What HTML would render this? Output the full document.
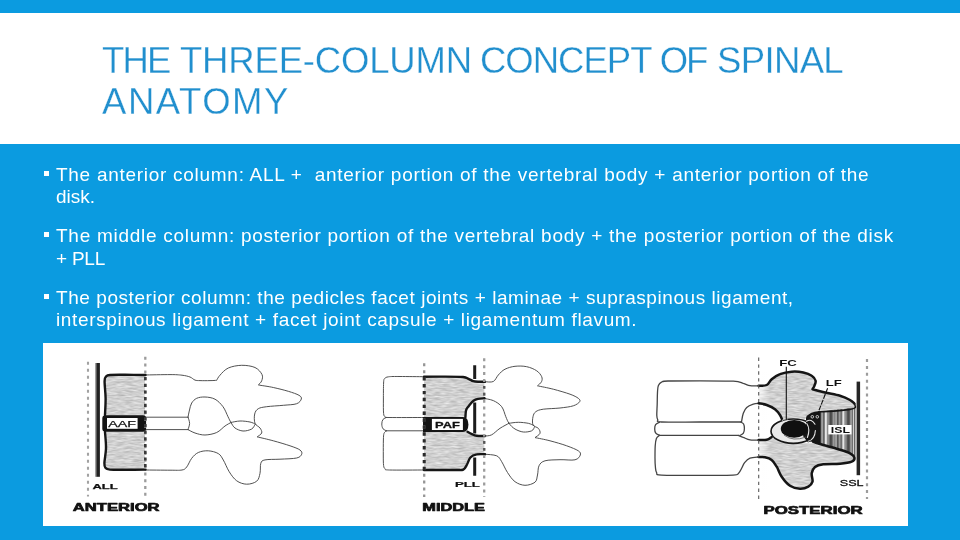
<!DOCTYPE html>
<html lang="en">
<head>
<meta charset="utf-8">
<title>The Three-Column Concept of Spinal Anatomy</title>
<style>
html,body{margin:0;padding:0;}
body{width:960px;height:540px;overflow:hidden;background:#0B9BE0;position:relative;font-family:"Liberation Sans",sans-serif;}
#band{position:absolute;left:0;top:12.7px;width:960px;height:131.2px;background:#fff;}
.t{will-change:transform;position:absolute;left:103px;white-space:nowrap;color:#218FCE;-webkit-text-stroke:0.3px #fff;font-size:36.5px;line-height:41px;height:41px;transform-origin:0 50%;}
.b{will-change:transform;position:absolute;left:56px;white-space:nowrap;color:#fff;font-size:19px;line-height:22px;height:22px;transform-origin:0 50%;}
.bu{margin-top:-0.4px;position:absolute;left:43.8px;width:5px;height:5px;background:#fff;}
#fig{position:absolute;left:42.6px;top:342.6px;width:865.5px;height:183.2px;background:#fff;}
</style>
</head>
<body>
<div id="band"></div>
<div class="t" id="t1" style="top:40px;width:760px"><span style="position:absolute;left:-1.0px;top:0;letter-spacing:-1.85px">THE</span> <span style="position:absolute;left:77.0px;top:0;letter-spacing:-0.18px">THREE-COLUMN</span> <span style="position:absolute;left:377.0px;top:0;letter-spacing:-1.00px">CONCEPT</span> <span style="position:absolute;left:556.8px;top:0;letter-spacing:-2.30px">OF</span> <span style="position:absolute;left:614.0px;top:0;letter-spacing:-0.64px">SPINAL</span></div>
<div class="t" id="t2" style="top:81px;left:102.4px;letter-spacing:1.55px">ANATOMY</div>

<div class="bu" style="top:171px"></div>
<div class="b" id="b1" style="top:164px;letter-spacing:0.72px">The anterior column: ALL +&nbsp; anterior portion of the vertebral body + anterior portion of the</div>
<div class="b" id="b2" style="top:186px;letter-spacing:-0.02px">disk.</div>
<div class="bu" style="top:232px"></div>
<div class="b" id="b3" style="top:225px;letter-spacing:0.73px">The middle column: posterior portion of the vertebral body + the posterior portion of the disk</div>
<div class="b" id="b4" style="top:248px;letter-spacing:-0.24px">+ PLL</div>
<div class="bu" style="top:294px"></div>
<div class="b" id="b5" style="top:287px;letter-spacing:0.56px">The posterior column: the pedicles facet joints + laminae + supraspinous ligament,</div>
<div class="b" id="b6" style="top:309px;letter-spacing:0.65px">interspinous ligament + facet joint capsule + ligamentum flavum.</div>

<div id="fig"></div>
<!--FIG-->
<svg id="figsvg" width="960" height="540" viewBox="0 0 960 540" style="position:absolute;left:0;top:0;will-change:transform;filter:blur(0.35px)" font-family="'Liberation Sans',sans-serif">
<defs>
<filter id="nz" color-interpolation-filters="sRGB" x="0" y="0" width="100%" height="100%"><feTurbulence type="fractalNoise" baseFrequency="0.12 0.6" numOctaves="2" seed="7" result="t"/><feColorMatrix in="t" type="matrix" values="0.3 0 0 0 0.665  0.3 0 0 0 0.665  0.3 0 0 0 0.665  0 0 0 0 1" result="g"/><feComposite in="g" in2="SourceGraphic" operator="in"/></filter>
<filter id="soft" x="-2%" y="-2%" width="104%" height="104%"><feGaussianBlur stdDeviation="0.35"/></filter>
<linearGradient id="fade" x1="0" x2="1" y1="0" y2="0"><stop offset="0" stop-color="#fff" stop-opacity="0.75"/><stop offset="1" stop-color="#fff" stop-opacity="0"/></linearGradient>
<pattern id="stripes" x="820" width="17.5" height="10" patternUnits="userSpaceOnUse"><rect width="17.5" height="10" fill="#4a4a4a"/><rect x="1.2" width="2" height="10" fill="#a4a4a4"/><rect x="4.6" width="2.2" height="10" fill="#e6e6e6"/><rect x="6.8" width="2.6" height="10" fill="#8e8e8e"/><rect x="12.4" width="2.6" height="10" fill="#9a9a9a"/><rect x="15.6" width="1.1" height="10" fill="#dcdcdc"/></pattern>
</defs>
<rect x="105" y="376" width="40" height="40" fill="#c8c8c8" filter="url(#nz)"/>
<rect x="105" y="431" width="40" height="38.5" fill="#c8c8c8" filter="url(#nz)"/>
<path d="M145.0 375.0C149.2 374.9 163.8 374.6 170.0 374.6C176.2 374.6 178.7 374.8 182.0 375.2C185.3 375.6 187.8 376.2 190.0 377.0C192.2 377.8 193.3 379.5 195.0 380.1C196.7 380.7 197.5 380.5 200.0 380.6C202.5 380.7 207.2 380.7 210.0 380.6C212.8 380.6 215.6 380.4 216.7 380.3C217.2 379.4 218.1 377.2 220.0 375.2C221.9 373.1 224.7 369.6 228.3 368.0C231.9 366.4 237.2 365.4 241.7 365.3C246.1 365.2 251.6 366.0 255.0 367.5C258.4 369.0 260.9 372.3 262.0 374.5C263.1 376.7 262.3 379.1 261.7 380.8C261.1 382.6 258.9 384.3 258.3 385.0C260.8 385.4 268.3 386.4 273.3 387.5C278.3 388.6 284.0 390.0 288.3 391.3C292.6 392.6 296.8 394.0 299.0 395.3C301.2 396.6 301.7 397.6 301.3 399.0C300.9 400.4 299.7 402.6 296.7 403.7C293.7 404.8 288.3 404.8 283.3 405.3C278.3 405.8 270.9 406.1 266.7 406.7C262.5 407.3 260.3 407.5 258.3 408.7C256.3 409.9 255.2 411.6 254.7 414.0C254.1 416.4 254.1 421.0 255.0 423.3C255.9 425.6 258.9 426.4 260.0 428.0C261.1 429.6 262.2 431.5 261.7 433.0C261.2 434.5 257.9 436.2 257.2 436.9C259.9 437.5 267.8 439.3 273.3 440.8C278.8 442.3 285.6 444.3 290.0 445.8C294.4 447.3 298.1 448.6 300.0 450.0C301.9 451.4 302.2 452.9 301.7 454.2C301.1 455.5 300.3 457.2 296.7 458.0C293.1 458.8 285.3 458.9 280.0 459.2C274.7 459.5 268.2 459.2 265.0 459.9C261.8 460.6 261.6 461.1 260.8 463.3C260.0 465.5 260.7 470.3 260.0 473.3C259.3 476.3 258.9 479.4 256.7 481.2C254.5 483.0 250.0 484.3 246.7 484.2C243.4 484.1 239.6 482.9 236.7 480.8C233.8 478.7 231.4 475.2 229.2 471.7C227.0 468.2 225.1 463.0 223.3 460.0C221.5 457.0 220.8 455.1 218.3 453.6C215.8 452.1 211.6 451.0 208.3 450.8C205.0 450.6 201.1 451.2 198.3 452.5C195.5 453.8 193.6 455.9 191.7 458.3C189.8 460.7 188.3 465.1 186.7 467.0C185.1 468.9 184.8 469.5 182.0 470.0C179.2 470.5 176.2 470.2 170.0 470.2C163.8 470.2 149.2 470.0 145.0 470.0" fill="none" stroke="#484848" stroke-width="0.95" stroke-linecap="round" stroke-linejoin="round"/>
<path d="M188.0 417.2C188.2 416.0 188.9 412.4 189.5 410.0C190.1 407.6 190.5 404.9 191.7 403.0C192.9 401.1 194.5 399.3 196.7 398.3C198.9 397.3 201.9 396.9 205.0 397.0C208.1 397.1 212.0 397.6 215.0 399.2C218.0 400.8 220.8 403.8 223.0 406.7C225.2 409.6 226.7 414.1 228.0 416.7C229.3 419.3 229.8 420.6 231.0 422.5C232.2 424.4 233.0 426.6 235.0 428.0C237.0 429.4 240.2 430.8 243.0 431.0C245.8 431.2 249.7 430.1 251.7 429.0C253.7 427.9 254.4 425.2 255.0 424.5" fill="none" stroke="#484848" stroke-width="0.95" stroke-linecap="round" stroke-linejoin="round"/>
<path d="M231.0 422.5C232.5 422.2 236.8 421.1 240.0 421.0C243.2 420.9 247.4 421.5 250.0 422.0C252.6 422.5 254.6 423.8 255.5 424.2" fill="none" stroke="#484848" stroke-width="0.95" stroke-linecap="round" stroke-linejoin="round"/>
<path d="M188.0 429.6C189.2 430.2 192.2 432.1 195.0 433.0C197.8 433.9 201.4 435.1 205.0 435.0C208.6 434.9 213.4 434.0 216.7 432.5C220.0 431.0 222.6 427.7 225.0 426.0C227.4 424.3 230.0 423.1 231.0 422.5" fill="none" stroke="#484848" stroke-width="0.95" stroke-linecap="round" stroke-linejoin="round"/>
<path d="M145 417.2H188M145 429.6H188" fill="none" stroke="#484848" stroke-width="0.95" stroke-linecap="round" stroke-linejoin="round"/>
<path d="M188.0 417.2C188.3 418.2 189.6 421.3 189.6 423.4C189.6 425.5 188.3 428.6 188.0 429.6" fill="none" stroke="#484848" stroke-width="0.95" stroke-linecap="round" stroke-linejoin="round"/>
<path d="M105.0 415.0C105.1 412.2 105.7 403.7 105.6 398.0C105.5 392.3 104.5 384.6 104.6 381.0C104.7 377.4 105.1 377.6 106.0 376.6C106.9 375.6 106.8 375.3 110.0 375.0C113.2 374.7 119.1 374.8 125.0 374.8C130.9 374.8 142.1 375.0 145.5 375.0" fill="none" stroke="#161616" stroke-width="2.4" stroke-linecap="round" stroke-linejoin="round"/>
<path d="M105.0 432.0C105.2 434.7 106.1 442.8 106.0 448.0C105.9 453.2 104.5 459.7 104.4 463.0C104.3 466.3 104.5 466.7 105.4 467.8C106.3 468.9 106.7 469.3 110.0 469.6C113.3 469.9 119.1 469.8 125.0 469.8C130.9 469.8 142.1 469.6 145.5 469.6" fill="none" stroke="#161616" stroke-width="2.4" stroke-linecap="round" stroke-linejoin="round"/>
<rect x="102.3" y="415.2" width="43.8" height="16.6" rx="3.2" fill="#141414"/>
<rect x="107" y="418" width="30.6" height="10.8" fill="#fff"/>
<text x="108.3" y="426.9" font-size="9.2" font-weight="normal" fill="#111" stroke="#111" stroke-width="0.25" stroke-linejoin="round" textLength="27.8" lengthAdjust="spacingAndGlyphs">AAF</text>
<rect x="95.2" y="363" width="1.4" height="113.8" fill="#8a8a8a"/><rect x="96.4" y="363" width="3.5" height="113.8" fill="#222"/>
<line x1="88.0" y1="361.8" x2="88.0" y2="496.5" stroke="#a2a2a2" stroke-width="2.1" stroke-dasharray="3.0 4.0" stroke-dashoffset="0.0"/>
<line x1="145.3" y1="356.8" x2="145.3" y2="496.5" stroke="#9c9c9c" stroke-width="2.3" stroke-dasharray="3.0 3.8" stroke-dashoffset="0.0"/>
<line x1="145.3" y1="376.0" x2="145.3" y2="470.0" stroke="#3a3a3a" stroke-width="2.6" stroke-dasharray="3.2 3.5" stroke-dashoffset="5.7"/>
<text x="92.4" y="488.6" font-size="7.4" font-weight="bold" fill="#111" stroke="#111" stroke-width="0.25" stroke-linejoin="round" textLength="25.2" lengthAdjust="spacingAndGlyphs">ALL</text>
<text x="72.8" y="511.0" font-size="11.2" font-weight="bold" fill="#111" stroke="#111" stroke-width="0.70" stroke-linejoin="round" textLength="86.8" lengthAdjust="spacingAndGlyphs">ANTERIOR</text>
<path d="M424 377H463L473.3 381.3L484.3 381.7V398.3L473.3 400.8L468.3 406.7L465 417.5H424Z" fill="#c8c8c8" filter="url(#nz)"/>
<path d="M424 431.5H468L476.7 435.8L484.3 436V454.2H476.7L470 457.5L466.7 465L463.3 470H424Z" fill="#c8c8c8" filter="url(#nz)"/>
<path d="M424.0 376.7C420.0 376.7 405.9 376.5 400.0 376.5C394.1 376.5 391.1 376.4 388.5 376.8C385.9 377.2 385.4 377.6 384.6 378.6C383.8 379.6 383.8 379.4 383.6 383.0C383.4 386.6 383.4 394.9 383.4 400.0C383.4 405.1 383.3 410.7 383.6 413.5C383.9 416.3 384.3 416.1 385.2 416.8C386.1 417.5 382.5 417.4 389.0 417.5C395.5 417.6 418.2 417.5 424.0 417.5" fill="none" stroke="#484848" stroke-width="0.95" stroke-linecap="round" stroke-linejoin="round"/>
<path d="M386.5 417.5C385.9 417.8 383.8 418.3 383.0 419.4C382.2 420.5 381.8 422.4 381.8 424.0C381.8 425.6 382.2 427.7 383.0 428.8C383.8 429.9 385.9 430.5 386.5 430.8" fill="none" stroke="#484848" stroke-width="0.95" stroke-linecap="round" stroke-linejoin="round"/>
<path d="M386.5 430.8H424" fill="none" stroke="#484848" stroke-width="0.95" stroke-linecap="round" stroke-linejoin="round"/>
<path d="M386.5 430.8C386.1 431.2 384.5 431.9 384.0 433.4C383.5 434.9 383.5 436.4 383.4 440.0C383.3 443.6 383.3 450.8 383.3 455.0C383.3 459.2 383.3 463.2 383.6 465.5C383.9 467.8 384.2 468.1 385.2 468.8C386.2 469.6 383.0 469.8 389.5 470.0C396.0 470.2 418.2 470.0 424.0 470.0" fill="none" stroke="#484848" stroke-width="0.95" stroke-linecap="round" stroke-linejoin="round"/>
<path d="M485.0 381.7C486.4 381.7 491.1 382.6 493.3 381.5C495.5 380.4 496.4 377.1 498.3 375.0C500.2 372.9 502.2 370.6 505.0 369.2C507.8 367.8 511.4 366.7 515.0 366.3C518.6 365.9 523.1 365.9 526.7 366.7C530.3 367.4 534.2 369.1 536.7 370.8C539.2 372.5 540.9 374.9 541.7 376.7C542.5 378.5 542.2 380.2 541.5 381.7C540.8 383.2 538.2 385.1 537.5 385.8C540.1 386.4 547.9 387.8 553.3 389.2C558.7 390.6 565.8 392.7 570.0 394.2C574.2 395.7 576.7 397.1 578.3 398.3C579.9 399.6 580.5 400.4 579.7 401.7C578.9 402.9 576.6 404.8 573.3 405.8C570.0 406.9 565.0 407.4 560.0 408.0C555.0 408.6 547.3 408.6 543.3 409.2C539.3 409.8 537.5 410.4 535.8 411.7C534.1 412.9 533.5 414.5 533.0 416.7C532.5 418.9 532.1 423.1 533.0 425.0C533.9 426.9 537.1 426.9 538.3 428.3C539.5 429.7 540.5 431.8 540.0 433.3C539.5 434.9 535.8 436.9 535.0 437.6C537.5 438.1 544.7 439.4 550.0 440.8C555.3 442.2 562.0 444.1 566.7 445.8C571.4 447.5 576.0 449.3 578.3 450.8C580.6 452.3 580.8 453.5 580.3 455.0C579.8 456.5 578.4 459.0 575.0 459.8C571.6 460.6 565.0 459.5 560.0 459.7C555.0 459.9 548.5 459.8 545.0 460.8C541.5 461.8 540.2 463.4 539.0 465.8C537.8 468.2 538.2 472.3 537.5 475.0C536.8 477.7 537.1 480.5 535.0 482.2C532.9 483.9 528.3 485.4 525.0 485.3C521.7 485.2 517.9 483.8 515.0 481.7C512.1 479.6 509.7 475.8 507.5 472.5C505.3 469.2 503.5 464.5 501.7 461.7C499.9 458.9 499.5 457.1 496.7 455.8C493.9 454.6 486.9 454.5 485.0 454.2" fill="none" stroke="#484848" stroke-width="0.95" stroke-linecap="round" stroke-linejoin="round"/>
<path d="M483.3 398.3C485.0 398.7 490.2 399.2 493.3 400.6C496.4 402.0 499.6 404.0 501.7 406.7C503.8 409.4 504.6 413.9 505.8 416.7C507.0 419.5 507.5 421.2 509.0 423.3C510.5 425.4 512.6 427.6 515.0 429.0C517.4 430.4 520.5 431.7 523.3 432.0C526.1 432.3 529.8 431.6 531.7 430.8C533.6 430.0 534.0 427.6 534.5 427.0" fill="none" stroke="#484848" stroke-width="0.95" stroke-linecap="round" stroke-linejoin="round"/>
<path d="M509.0 423.3C510.6 423.1 515.1 422.3 518.3 422.3C521.5 422.3 525.7 422.8 528.3 423.3C530.9 423.9 533.0 425.2 534.0 425.6" fill="none" stroke="#484848" stroke-width="0.95" stroke-linecap="round" stroke-linejoin="round"/>
<path d="M485.0 436.0C486.1 435.8 489.2 436.1 491.7 434.8C494.2 433.5 497.1 430.2 500.0 428.3C502.9 426.4 507.5 424.1 509.0 423.3" fill="none" stroke="#484848" stroke-width="0.95" stroke-linecap="round" stroke-linejoin="round"/>
<path d="M474.7 365.3V379M474.7 402.5V433.5M474.7 457.5V475.8" stroke="#1c1c1c" stroke-width="3" fill="none"/>
<path d="M424.0 376.8C427.5 376.8 438.5 376.6 445.0 376.6C451.5 376.6 459.1 376.6 463.0 377.0C466.9 377.4 466.8 378.1 468.5 378.8C470.2 379.5 471.6 380.7 473.3 381.2C475.1 381.7 477.1 381.7 479.0 381.8C480.9 381.9 484.0 381.7 485.0 381.7" fill="none" stroke="#161616" stroke-width="2.4" stroke-linecap="round" stroke-linejoin="round"/>
<path d="M465.4 417.5C465.5 416.3 465.5 412.4 466.0 410.5C466.5 408.6 467.4 407.8 468.6 406.2C469.9 404.6 471.9 402.0 473.5 400.8C475.1 399.6 476.2 399.3 478.0 398.9C479.8 398.5 483.4 398.4 484.5 398.3" fill="none" stroke="#161616" stroke-width="2.4" stroke-linecap="round" stroke-linejoin="round"/>
<path d="M467.5 431.8C468.2 432.2 470.5 433.5 472.0 434.2C473.5 434.9 474.5 435.5 476.7 435.8C478.9 436.1 483.6 436.0 485.0 436.0" fill="none" stroke="#161616" stroke-width="2.4" stroke-linecap="round" stroke-linejoin="round"/>
<path d="M485.0 454.2C483.6 454.2 479.1 453.8 476.7 454.4C474.3 454.9 472.0 455.8 470.4 457.5C468.8 459.2 468.2 462.5 467.0 464.5C465.8 466.5 465.3 468.7 463.3 469.6C461.3 470.5 461.6 469.9 455.0 470.0C448.4 470.1 429.2 470.0 424.0 470.0" fill="none" stroke="#161616" stroke-width="2.4" stroke-linecap="round" stroke-linejoin="round"/>
<path d="M423 416.9H463Q468.4 417.2 468.4 424.5Q468.4 431.8 463 432.1H423Z" fill="#141414"/>
<rect x="431.9" y="418.9" width="31" height="11.1" fill="#fff"/>
<text x="435.0" y="427.8" font-size="9.3" font-weight="bold" fill="#111" stroke="#111" stroke-width="0.30" stroke-linejoin="round" textLength="24.8" lengthAdjust="spacingAndGlyphs">PAF</text>
<line x1="424.2" y1="363.3" x2="424.2" y2="497.0" stroke="#959595" stroke-width="2.3" stroke-dasharray="3.0 3.9" stroke-dashoffset="0.0"/>
<line x1="424.2" y1="377.0" x2="424.2" y2="470.5" stroke="#2a2a2a" stroke-width="3.0" stroke-dasharray="3.4 3.5" stroke-dashoffset="6.8"/>
<line x1="484.2" y1="358.3" x2="484.2" y2="497.0" stroke="#9c9c9c" stroke-width="2.3" stroke-dasharray="3.0 3.9" stroke-dashoffset="0.0"/>
<line x1="484.2" y1="381.5" x2="484.2" y2="399.0" stroke="#555" stroke-width="2.2" stroke-dasharray="2.6 4.3" stroke-dashoffset="2.5"/>
<line x1="484.2" y1="436.0" x2="484.2" y2="454.5" stroke="#555" stroke-width="2.2" stroke-dasharray="2.6 4.3" stroke-dashoffset="1.8"/>
<text x="454.9" y="486.9" font-size="7.8" font-weight="bold" fill="#111" stroke="#111" stroke-width="0.20" stroke-linejoin="round" textLength="25.0" lengthAdjust="spacingAndGlyphs">PLL</text>
<text x="422.3" y="511.0" font-size="11.2" font-weight="bold" fill="#111" stroke="#111" stroke-width="0.70" stroke-linejoin="round" textLength="62.6" lengthAdjust="spacingAndGlyphs">MIDDLE</text>
<path d="M758.7 385.8C757.2 385.8 752.6 386.1 750.0 385.7C747.4 385.3 746.1 384.1 743.3 383.4C740.5 382.6 740.5 381.6 733.3 381.2C726.1 380.8 710.9 380.8 700.0 380.8C689.1 380.8 674.4 380.8 668.0 381.0C661.6 381.2 663.1 381.4 661.5 382.2C659.9 383.0 659.1 384.0 658.4 385.6C657.7 387.2 657.7 388.9 657.5 392.0C657.3 395.1 657.3 400.1 657.2 404.0C657.1 407.9 656.7 412.9 656.8 415.5C656.9 418.1 657.0 418.7 657.8 419.8C658.6 420.9 654.5 421.6 661.5 422.0C668.5 422.4 686.8 422.0 700.0 422.0C713.2 422.0 733.8 422.0 740.5 422.0" fill="none" stroke="#444" stroke-width="1.3" stroke-linecap="round" stroke-linejoin="round"/>
<path d="M741.5 422.0C741.8 420.6 742.4 415.7 743.3 413.3C744.2 410.9 745.0 409.0 746.7 407.5C748.4 406.0 751.3 404.9 753.3 404.2C755.3 403.5 757.8 403.4 758.7 403.3" fill="none" stroke="#444" stroke-width="1.3" stroke-linecap="round" stroke-linejoin="round"/>
<path d="M659.5 422.2C658.9 422.6 656.4 423.5 655.6 424.6C654.8 425.7 654.7 427.6 654.7 429.0C654.7 430.4 655.0 432.1 655.8 433.2C656.6 434.3 658.9 435.0 659.5 435.4" fill="none" stroke="#444" stroke-width="1.3" stroke-linecap="round" stroke-linejoin="round"/>
<path d="M740.5 422.0C741.0 422.3 743.0 422.9 743.6 424.0C744.2 425.1 744.4 427.1 744.4 428.6C744.4 430.1 744.1 432.1 743.4 433.2C742.7 434.3 740.6 435.0 740.0 435.4" fill="none" stroke="#444" stroke-width="1.3" stroke-linecap="round" stroke-linejoin="round"/>
<path d="M659.5 435.4H738.3" fill="none" stroke="#444" stroke-width="1.3" stroke-linecap="round" stroke-linejoin="round"/>
<path d="M738.3 435.4C739.1 435.7 741.3 436.6 743.3 437.4C745.2 438.1 747.4 439.5 750.0 439.9C752.6 440.3 757.2 440.0 758.7 440.0" fill="none" stroke="#444" stroke-width="1.3" stroke-linecap="round" stroke-linejoin="round"/>
<path d="M659.5 435.4C659.0 435.9 657.1 436.6 656.4 438.4C655.7 440.2 655.4 442.7 655.2 446.0C655.0 449.3 655.0 454.5 655.0 458.0C655.0 461.5 655.1 464.6 655.4 467.0C655.7 469.4 655.6 471.2 656.6 472.6C657.6 474.0 654.3 474.8 661.5 475.2C668.7 475.6 688.1 475.3 700.0 475.3C711.9 475.3 726.6 475.5 733.0 475.1C739.4 474.8 737.2 474.3 738.6 473.2C740.0 472.1 740.5 470.3 741.5 468.5C742.5 466.7 743.2 464.3 744.6 462.6C746.0 460.9 747.6 459.1 750.0 458.2C752.4 457.3 757.2 457.2 758.7 457.0" fill="none" stroke="#444" stroke-width="1.3" stroke-linecap="round" stroke-linejoin="round"/>
<path d="M758.7 385.8C760.0 385.7 764.5 386.1 766.7 385.0C768.9 383.9 769.5 381.0 771.7 379.2C773.9 377.4 776.7 375.4 780.0 374.2C783.3 372.9 787.8 372.0 791.7 371.7C795.6 371.4 800.0 371.8 803.3 372.5C806.6 373.2 809.7 374.4 811.7 375.8C813.8 377.2 815.2 379.1 815.6 380.8C816.0 382.5 814.9 384.4 814.4 385.8C813.9 387.2 812.8 388.6 812.5 389.2C814.6 389.8 820.4 391.4 825.0 392.5C829.6 393.6 835.8 394.6 840.0 395.8C844.2 397.1 847.6 398.7 850.0 400.0C852.4 401.3 853.7 403.0 854.4 403.6L855 409L836.7 410.8L820 412L811 414L806 418L800 424L782.5 421L780 415L775 409.2L766.7 405L758.7 403.3Z" fill="#c8c8c8" filter="url(#nz)"/>
<path d="M758.7 440.0C760.0 440.0 764.5 440.3 766.7 439.8C768.9 439.3 770.0 436.9 771.7 437.0C773.4 437.1 775.1 439.4 777.0 440.2C778.9 441.0 779.5 441.4 783.3 442.0C787.1 442.6 795.0 443.5 800.0 443.5C805.0 443.5 811.1 442.2 813.3 441.9C815.0 442.4 819.1 443.8 823.3 445.0C827.5 446.2 833.8 447.8 838.3 449.2C842.8 450.6 847.3 451.9 850.0 453.3C852.7 454.7 854.1 456.1 854.4 457.5C854.7 458.9 854.1 460.7 851.7 461.7C849.3 462.7 844.7 463.3 840.0 463.7C835.3 464.1 827.5 463.7 823.3 464.2C819.1 464.7 816.9 465.4 815.0 466.9C813.1 468.4 812.1 470.8 811.7 473.3C811.3 475.8 813.1 479.5 812.5 481.7C811.9 483.9 810.4 485.5 808.3 486.7C806.2 487.9 803.0 488.8 800.0 488.7C797.0 488.6 793.0 487.8 790.0 485.8C787.0 483.8 783.9 479.9 781.7 476.7C779.5 473.5 778.4 469.5 776.7 466.7C775.0 463.9 773.7 461.6 771.7 460.0C769.8 458.4 767.2 457.7 765.0 457.2C762.8 456.7 759.8 457.0 758.7 457.0Z" fill="#c8c8c8" filter="url(#nz)"/>
<rect x="758" y="372" width="12" height="118" fill="url(#fade)"/>
<path d="M820 411.6L855.4 407.6V456.5L850 453.3L838.3 449.2L823.3 445L820 444Z" fill="url(#stripes)"/>
<path d="M806 417.5L811.5 413.6L820.4 411.6V444.2L813.3 441.9L806 441Z" fill="#161616"/>
<path d="M758.7 385.8C760.0 385.7 764.5 386.1 766.7 385.0C768.9 383.9 769.5 381.0 771.7 379.2C773.9 377.4 776.7 375.4 780.0 374.2C783.3 372.9 787.8 372.0 791.7 371.7C795.6 371.4 800.0 371.8 803.3 372.5C806.6 373.2 809.7 374.4 811.7 375.8C813.8 377.2 815.2 379.1 815.6 380.8C816.0 382.5 814.9 384.4 814.4 385.8C813.9 387.2 812.8 388.6 812.5 389.2C814.6 389.8 820.4 391.4 825.0 392.5C829.6 393.6 835.8 394.6 840.0 395.8C844.2 397.1 847.6 398.7 850.0 400.0C852.4 401.3 853.7 403.0 854.4 403.6" fill="none" stroke="#151515" stroke-width="2.5" stroke-linecap="round" stroke-linejoin="round"/>
<path d="M758.7 403.3C760.0 403.6 764.0 404.0 766.7 405.0C769.4 406.0 772.8 407.5 775.0 409.2C777.2 410.9 778.8 413.1 780.0 415.0C781.2 416.9 782.1 419.6 782.5 420.5" fill="none" stroke="#151515" stroke-width="2.5" stroke-linecap="round" stroke-linejoin="round"/>
<path d="M854.4 403.6C854.5 404.3 855.9 406.6 855.2 407.6C854.5 408.6 853.1 408.8 850.0 409.4C846.9 409.9 841.7 410.5 836.7 410.9C831.7 411.3 824.2 411.4 820.0 411.8C815.8 412.2 813.9 412.5 811.7 413.4C809.5 414.3 807.5 416.4 806.7 417.0" fill="none" stroke="#151515" stroke-width="1.6"/>
<path d="M758.7 440.0C760.0 440.0 764.5 440.3 766.7 439.8C768.9 439.3 770.9 437.5 771.7 437.0" fill="none" stroke="#151515" stroke-width="2.5" stroke-linecap="round" stroke-linejoin="round"/>
<path d="M813.3 441.9C815.0 442.4 819.1 443.8 823.3 445.0C827.5 446.2 833.8 447.8 838.3 449.2C842.8 450.6 847.3 451.9 850.0 453.3C852.7 454.7 854.1 456.1 854.4 457.5C854.7 458.9 854.1 460.7 851.7 461.7C849.3 462.7 844.7 463.3 840.0 463.7C835.3 464.1 827.5 463.7 823.3 464.2C819.1 464.7 816.9 465.4 815.0 466.9C813.1 468.4 812.1 470.8 811.7 473.3C811.3 475.8 813.1 479.5 812.5 481.7C811.9 483.9 810.4 485.5 808.3 486.7C806.2 487.9 803.0 488.8 800.0 488.7C797.0 488.6 793.0 487.8 790.0 485.8C787.0 483.8 783.9 479.9 781.7 476.7C779.5 473.5 778.4 469.5 776.7 466.7C775.0 463.9 773.7 461.6 771.7 460.0C769.8 458.4 767.2 457.7 765.0 457.2C762.8 456.7 759.8 457.0 758.7 457.0" fill="none" stroke="#151515" stroke-width="2.5" stroke-linecap="round" stroke-linejoin="round"/>
<ellipse cx="793.3" cy="431.2" rx="22.3" ry="12.2" fill="#e9e9e9" stroke="#151515" stroke-width="1.6"/>
<path d="M806 419.5Q817 424 816.5 432Q816 439 808 442.5L803 436L806 428Z" fill="#161616"/>
<ellipse cx="794.2" cy="428.8" rx="13.4" ry="8.9" fill="#101010"/>
<path d="M806.5 421.2Q811.5 418.2 815 424.2M808.2 441.2Q814.8 439.6 815.4 430.5M806.8 423.5Q810.5 429 807.4 437.5" fill="none" stroke="#e4e4e4" stroke-width="1.1" stroke-linecap="round"/>
<path d="M784 435Q793 442 806 437" fill="none" stroke="#555" stroke-width="0.8"/>
<circle cx="812.3" cy="416.8" r="1.3" fill="none" stroke="#eee" stroke-width="0.8"/><circle cx="817.3" cy="416.8" r="1.3" fill="none" stroke="#eee" stroke-width="0.8"/>
<ellipse cx="785" cy="420.3" rx="2.6" ry="1.2" fill="none" stroke="#eee" stroke-width="0.8"/>
<rect x="828.3" y="425" width="23.2" height="9.4" fill="#fff"/>
<text x="830.8" y="432.9" font-size="9.0" font-weight="bold" fill="#111" textLength="19.2" lengthAdjust="spacingAndGlyphs">ISL</text>
<path d="M786.3 366.8V420" stroke="#111" stroke-width="1.1" fill="none"/>
<path d="M827.6 388.3L817.4 414.4" stroke="#111" stroke-width="1.1" stroke-dasharray="5 1.2" fill="none"/>
<rect x="856.6" y="381.6" width="3.5" height="93.6" fill="#262626"/>
<line x1="758.7" y1="357.5" x2="758.7" y2="499.5" stroke="#5a5a5a" stroke-width="1.1" stroke-dasharray="3.4 3.5" stroke-dashoffset="0.0"/>
<line x1="867.0" y1="359.0" x2="867.0" y2="499.0" stroke="#9c9c9c" stroke-width="2.2" stroke-dasharray="3.0 3.9" stroke-dashoffset="0.0"/>
<text x="779.2" y="365.9" font-size="9.2" font-weight="bold" fill="#111" textLength="17.6" lengthAdjust="spacingAndGlyphs">FC</text>
<text x="825.8" y="385.9" font-size="8.6" font-weight="bold" fill="#111" textLength="16.0" lengthAdjust="spacingAndGlyphs">LF</text>
<text x="839.8" y="485.8" font-size="9.3" font-weight="normal" fill="#111" stroke="#111" stroke-width="0.30" stroke-linejoin="round" textLength="23.8" lengthAdjust="spacingAndGlyphs">SSL</text>
<text x="763.5" y="513.8" font-size="11.3" font-weight="bold" fill="#111" stroke="#111" stroke-width="0.70" stroke-linejoin="round" textLength="99.2" lengthAdjust="spacingAndGlyphs">POSTERIOR</text>
</svg>
<!--/FIG-->
</body>
</html>
